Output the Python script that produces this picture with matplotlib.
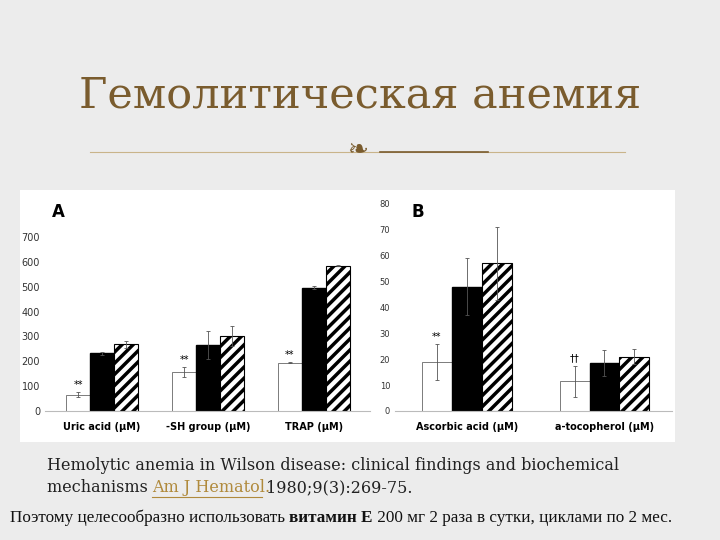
import matplotlib
matplotlib.use("Agg")
import matplotlib.pyplot as plt
import numpy as np

plt.rcParams['hatch.linewidth'] = 2.5

# panel A
groups_a = ['Uric acid (\u00b5M)', '-SH group (\u00b5M)', 'TRAP (\u00b5M)']
a_white = [65, 158, 195]
a_white_err = [10, 20, 3]
a_black = [232, 265, 495]
a_black_err = [5, 55, 6]
a_hatch = [268, 302, 585]
a_hatch_err = [15, 40, 3]
a_marks = ['**', '**', '**']

# panel B
groups_b = ['Ascorbic acid (\u00b5M)', 'a-tocopherol (\u00b5M)']
b_white = [19, 11.5]
b_white_err = [7, 6]
b_black = [48, 18.5]
b_black_err = [11, 5]
b_hatch = [57, 21]
b_hatch_err = [14, 3]
b_marks = ['**', '\u2020\u2020']

fig = plt.figure(figsize=(7.2, 5.4), dpi=100, facecolor='#ececec')

# white panel behind the charts
bg = fig.add_axes([20 / 720, 1 - 442 / 540, 655 / 720, 252 / 540], zorder=0)
bg.set_facecolor('white')
bg.set_axis_off()
bg.add_patch(plt.Rectangle((0, 0), 1, 1, transform=bg.transAxes, facecolor='white', edgecolor='none'))

fig.text(0.5, 1 - 95 / 540, 'Гемолитическая анемия', ha='center', va='center',
         fontsize=31, family='DejaVu Serif', color='#7a5c2e')
fig.add_artist(plt.Line2D([90 / 720, 625 / 720], [1 - 152 / 540] * 2, color='#c9b48a', lw=0.8))
fig.add_artist(plt.Line2D([380 / 720, 488 / 720], [1 - 152 / 540] * 2, color='#7a5c2e', lw=1.2))
fig.text(358 / 720, 1 - 150 / 540, '\u2767', ha='center', va='center', fontsize=18, color='#7a5c2e')


def draw_panel(ax, groups, w, we, b, be, h, he, marks, ylim, yticks, width, label):
    x = np.arange(len(groups))
    ekw = dict(ecolor='#555555', elinewidth=0.6, capsize=1.5, capthick=0.6)
    ax.bar(x - width, w, width, color='white', edgecolor='#666666', lw=0.6,
           yerr=we, error_kw=ekw)
    ax.bar(x, b, width, color='black', edgecolor='black', yerr=be, error_kw=ekw)
    ax.bar(x + width, h, width, color='white', edgecolor='black', lw=0.8, hatch='///',
           yerr=he, error_kw=ekw)
    for xi, v, e, m in zip(x, w, we, marks):
        ax.text(xi - width, v + e + ylim[1] * 0.01, m, ha='center', va='bottom', fontsize=7)
    ax.set_ylim(*ylim)
    ax.set_yticks(yticks)
    ax.set_xticks(x)
    ax.set_xticklabels(groups, fontsize=7, fontweight='bold')
    ax.tick_params(axis='y', labelsize=7, length=0, colors='#333333')
    ax.tick_params(axis='x', length=0, pad=8)
    for s in ['top', 'right', 'left']:
        ax.spines[s].set_visible(False)
    ax.spines['bottom'].set_color('#bbbbbb')
    ax.patch.set_alpha(0)
    ax.text(0.02 if label == 'A' else 0.06, 0.985, label, transform=ax.transAxes,
            fontsize=12, fontweight='bold', va='top')


ax_a = fig.add_axes([45 / 720, 1 - 411 / 540, 325 / 720, 211 / 540], zorder=2)
ax_a.set_xlim(-0.54, 2.53)
draw_panel(ax_a, groups_a, a_white, a_white_err, a_black, a_black_err, a_hatch, a_hatch_err,
           a_marks, (0, 849), range(0, 701, 100), 0.226, 'A')

ax_b = fig.add_axes([395 / 720, 1 - 411 / 540, 277 / 720, 211 / 540], zorder=2)
ax_b.set_xlim(-0.52, 1.49)
draw_panel(ax_b, groups_b, b_white, b_white_err, b_black, b_black_err, b_hatch, b_hatch_err,
           b_marks, (0, 81.5), range(0, 81, 10), 0.217, 'B')
ax_b.tick_params(axis='y', labelsize=6)

fig.text(47 / 720, 1 - 465 / 540, 'Hemolytic anemia in Wilson disease: clinical findings and biochemical',
         fontsize=11.5, family='DejaVu Serif', va='center', color='#222222')
fig.text(47 / 720, 1 - 488 / 540, 'mechanisms ', fontsize=11.5, family='DejaVu Serif', va='center', color='#222222')
fig.text(152 / 720, 1 - 488 / 540, 'Am J Hematol.', fontsize=11.5, family='DejaVu Serif', va='center',
         color='#b08a3c')
fig.add_artist(plt.Line2D([152 / 720, 262 / 720], [1 - 497 / 540] * 2, color='#b08a3c', lw=0.8))
fig.text(266 / 720, 1 - 488 / 540, '1980;9(3):269-75.', fontsize=11.5, family='DejaVu Serif', va='center',
         color='#222222')

# bottom line in three pieces, the middle one bold
renderer = fig.canvas.get_renderer()
xpos = 10
for piece, wt in [('Поэтому целесообразно использовать ', 'normal'), ('витамин E', 'bold'),
                  (' 200 мг 2 раза в сутки, циклами по 2 мес.', 'normal')]:
    t = fig.text(xpos / 720, 1 - 518 / 540, piece, fontsize=12.3, family='Liberation Serif',
                 fontweight=wt, va='center', color='#111111')
    xpos += t.get_window_extent(renderer).width

fig.savefig('out.png', dpi=100, facecolor=fig.get_facecolor())
